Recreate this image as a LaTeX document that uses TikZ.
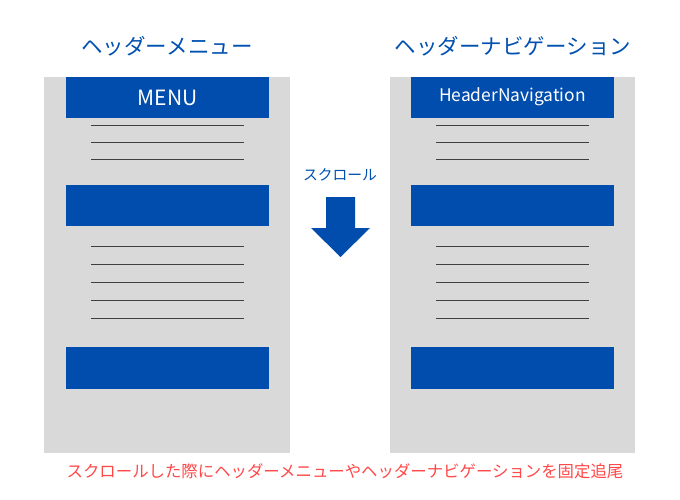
\documentclass[tikz,border=0pt]{standalone}
\usepackage{fontspec}
\newfontfamily\jpfont{Noto Sans CJK JP}
\definecolor{barblue}{HTML}{004DAD}
\definecolor{titleblue}{HTML}{0050B0}
\definecolor{pagegray}{HTML}{D9D9D9}
\definecolor{notered}{HTML}{FF4848}
\begin{document}
\begin{tikzpicture}[
    x=1pt, y=-1pt,
    page/.style={fill=pagegray, draw=none},
    bar/.style={fill=barblue, draw=none},
    textline/.style={draw=black!75, line width=0.9pt},
    title/.style={text=titleblue, font=\jpfont\fontsize{21.5}{24}\selectfont},
    bartext/.style={text=white, font=\jpfont\fontsize{21}{24}\selectfont}
]
\useasboundingbox (0,0) rectangle (680,500);
% pages
\fill[page] (44,77) rectangle (290,453);
\fill[page] (390,77) rectangle (635,453);
% bars
\foreach \y/\h in {77/118, 185/226, 347/389} {
    \fill[bar] (66,\y) rectangle (269,\h);
    \fill[bar] (411,\y) rectangle (614,\h);
}
% text lines
\foreach \y in {125,142,159,246,264,282,300,318} {
    \draw[textline] (91,\y) -- (244,\y);
    \draw[textline] (436,\y) -- (589,\y);
}
% labels
\node[title] (menutitle) at (167,46) {ヘッダーメニュー};
\node[title] (navtitle) at (513,46) {ヘッダーナビゲーション};
\node[bartext] (menu) at (167.5,98) {MENU};
\node[bartext, font=\jpfont\fontsize{17.4}{20}\selectfont] (nav) at (512.5,97) {HeaderNavigation};
\node[text=titleblue, font=\jpfont\fontsize{14.8}{17}\selectfont] (scroll) at (340,175) {スクロール};
% arrow
\fill[barblue] (326,197) -- (355,197) -- (355,228) -- (370,228) -- (340.5,257)
    -- (311,228) -- (326,228) -- cycle;
\node[text=notered, font=\jpfont\fontsize{16.4}{19}\selectfont] (note) at (345,471)
    {スクロールした際にヘッダーメニューやヘッダーナビゲーションを固定追尾};
\end{tikzpicture}
\end{document}
